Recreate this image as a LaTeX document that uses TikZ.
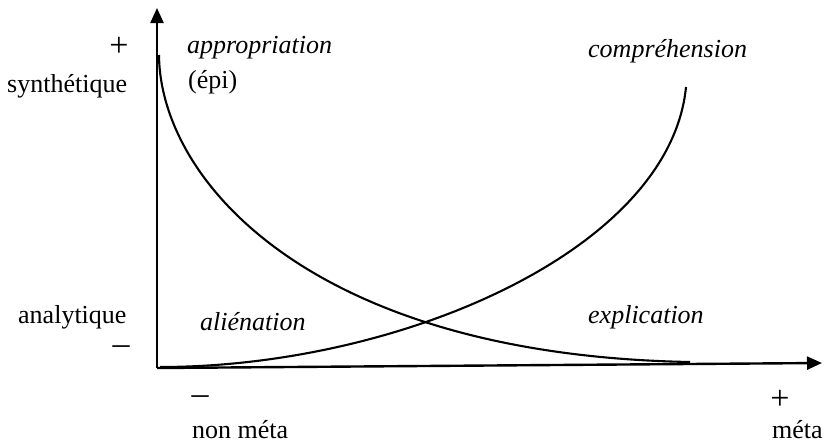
\documentclass[tikz,border=0pt]{standalone}
\usepackage{fontspec}
\setmainfont{Liberation Serif}
\usetikzlibrary{arrows.meta}
\tikzset{
  etiq/.style={inner sep=0pt, font=\fontsize{26}{30}\selectfont},
  etiqit/.style={inner sep=0pt, font=\fontsize{26}{30}\selectfont\itshape},
  signe/.style={inner sep=0pt, font=\fontsize{34}{36}\selectfont},
  axe/.style={line width=2.4pt, -{Triangle[length=15pt,width=13pt]}},
  courbe/.style={line width=2.1pt}
}
\begin{document}
\begin{tikzpicture}[x=1pt,y=-1pt]
        \useasboundingbox (0,0) rectangle (825,445);

        % Axes
        \coordinate (O) at (157,368);
        \coordinate (ytop) at (157,8);
        \coordinate (xend) at (822,363);
        \draw[axe] (O) -- (ytop);
        \draw[axe] (O) -- (xend);

        % Courbes
        \coordinate (a1) at (159,55);
        \coordinate (a2) at (690,362);
        \coordinate (c1) at (160,367);
        \coordinate (c2) at (686,87);
        \draw[courbe] (a1) .. controls (160,180) and (310,355) .. (a2);
        \draw[courbe] (c1) .. controls (400,367) and (670,250) .. (c2);

        % Axe vertical
        \node[signe] (plusS) at (119,47) {+};
        \node[etiq, anchor=base west] (synth) at (7,92) {synthétique};
        \node[etiq, anchor=base west] (analyt) at (18,323) {analytique};
        \node[signe] (moinsA) at (121,350) {–};

        % Quadrants
        \node[etiqit, anchor=base west] (approp) at (187,53) {appropriation};
        \node[etiq, anchor=base west] (epi) at (188,88) {(épi)};
        \node[etiqit, anchor=base west] (compr) at (588,57) {compréhension};
        \node[etiqit, anchor=base west] (alien) at (200,330) {aliénation};
        \node[etiqit, anchor=base west] (explic) at (588,323) {explication};

        % Axe horizontal
        \node[signe] (moinsM) at (200,400) {–};
        \node[etiq, anchor=base west] (nonmeta) at (192,438) {non méta};
        \node[signe] (plusM) at (780,400) {+};
        \node[etiq, anchor=base west] (meta) at (772,438) {méta};
\end{tikzpicture}
\end{document}
